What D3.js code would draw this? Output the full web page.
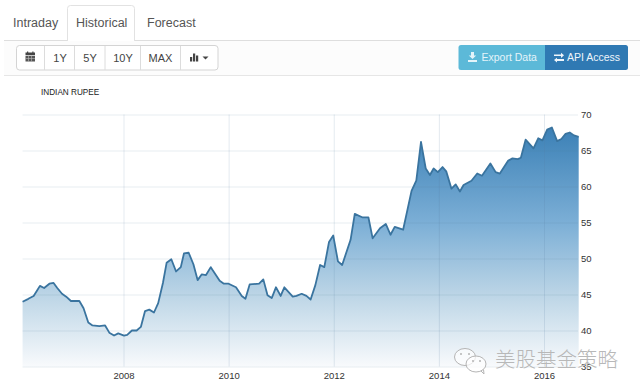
<!DOCTYPE html>
<html>
<head>
<meta charset="utf-8">
<script src="https://cdn.jsdelivr.net/npm/d3@7"></script>
<style>
  html, body { margin: 0; padding: 0; background: #fff; overflow: hidden; }
  text { font-family: "Liberation Sans", Arial, sans-serif; }
  .domain { display: none; }
</style>
</head>
<body>
<div id="chart"></div>
<script>
// decimal year, rupees per dollar
const years = [
  2006.08, 2006.19, 2006.29, 2006.35, 2006.41, 2006.49, 2006.59, 2006.67, 2006.74, 2006.83, 2006.91, 2007.0,
  2007.16, 2007.24, 2007.33, 2007.41, 2007.54, 2007.65, 2007.73, 2007.82, 2007.90, 2008.01, 2008.07, 2008.16,
  2008.25, 2008.33, 2008.41, 2008.49, 2008.58, 2008.66, 2008.75, 2008.82, 2008.91, 2009.0, 2009.09, 2009.15,
  2009.24, 2009.33, 2009.41, 2009.49, 2009.57, 2009.66, 2009.83, 2009.91, 2010.0, 2010.14, 2010.25, 2010.32,
  2010.40, 2010.58, 2010.66, 2010.74, 2010.82, 2010.90, 2010.99, 2011.06, 2011.22, 2011.29, 2011.39, 2011.48,
  2011.56, 2011.65, 2011.74, 2011.82, 2011.91, 2011.99, 2012.08, 2012.16, 2012.32, 2012.40, 2012.55, 2012.66,
  2012.74, 2012.88, 2012.99, 2013.08, 2013.16, 2013.32, 2013.48, 2013.57, 2013.66, 2013.75, 2013.83, 2013.90,
  2013.98, 2014.07, 2014.14, 2014.24, 2014.32, 2014.40, 2014.47, 2014.62, 2014.73, 2014.82, 2014.98, 2015.08,
  2015.16, 2015.32, 2015.40, 2015.50, 2015.56, 2015.65, 2015.80, 2015.89, 2015.97, 2016.06, 2016.15, 2016.25,
  2016.33, 2016.41, 2016.49, 2016.57, 2016.66
];
const rupee = [
  44.0, 44.4, 44.8, 45.5, 46.2, 45.9, 46.5, 46.6, 45.9, 45.1, 44.7, 44.1,
  44.1, 43.1, 41.1, 40.7, 40.6, 40.7, 39.7, 39.3, 39.6, 39.3, 39.4, 40.0,
  40.0, 40.5, 42.7, 42.9, 42.5, 43.8, 46.6, 49.4, 49.9, 48.2, 48.8, 50.7,
  50.8, 49.2, 47.0, 47.8, 47.7, 48.8, 46.9, 46.5, 46.5, 46.0, 44.8, 44.4,
  46.4, 46.5, 47.1, 44.9, 44.5, 46.0, 44.8, 46.0, 44.7, 44.8, 45.1, 44.8,
  44.3, 46.3, 49.1, 48.8, 52.3, 53.2, 49.6, 49.1, 52.6, 56.2, 55.7, 55.7,
  52.8, 54.2, 54.8, 53.3, 54.4, 54.0, 59.4, 60.8, 66.2, 62.5, 61.6, 62.5,
  62.0, 62.7, 62.1, 59.7, 60.3, 59.3, 60.2, 60.8, 61.8, 61.5, 63.2, 62.0,
  61.8, 63.6, 63.9, 63.8, 64.0, 66.5, 65.3, 66.7, 66.4, 67.9, 68.2, 66.3,
  66.6, 67.3, 67.5, 67.1, 66.9
];
const yearTicks = [2008, 2010, 2012, 2014, 2016];
const rupeeTicks = [35, 40, 45, 50, 55, 60, 65, 70];
const tabs = ["Intraday", "Historical", "Forecast"];
const rangeButtons = ["1Y", "5Y", "10Y", "MAX"];
const chartTitle = "INDIAN RUPEE";
const watermark = "美股基金策略";

const data = years.map((yr, i) => ({ yr, v: rupee[i] }));

const width = 640;
const height = 391;

const svg = d3.select("#chart")
  .append("svg")
  .attr("width", width)
  .attr("height", height)
  .style("display", "block");

// --- page chrome: tabs and toolbar
svg.append("rect").attr("x", 4).attr("y", 41).attr("width", 636).attr("height", 34).attr("fill", "#fcfcfc");
svg.append("line").attr("x1", 4).attr("x2", 640).attr("y1", 40.5).attr("y2", 40.5).attr("stroke", "#dedede");
svg.append("line").attr("x1", 4).attr("x2", 640).attr("y1", 75.5).attr("y2", 75.5).attr("stroke", "#e6e6e6");

svg.append("path")
  .attr("d", "M67.5,41V8.5a3,3 0 0 1 3,-3H131.5a3,3 0 0 1 3,3V41")
  .attr("fill", "#fff")
  .attr("stroke", "#e2e2e2");

const tabX = [13, 76, 147];
svg.selectAll(".tab")
  .data(tabs)
  .enter()
  .append("text")
  .attr("class", "tab")
  .attr("x", (d, i) => tabX[i])
  .attr("y", 27)
  .attr("fill", "#555")
  .style("font-size", "12.5px")
  .text(d => d);

// button group
svg.append("rect")
  .attr("x", 16.5).attr("y", 45.5).attr("width", 201.5).attr("height", 24.5).attr("rx", 3)
  .attr("fill", "#fff").attr("stroke", "#d4d4d4");
[44.5, 74.5, 105, 140.5, 180.5].forEach(x => {
  svg.append("line").attr("x1", x).attr("x2", x).attr("y1", 46).attr("y2", 70).attr("stroke", "#dcdcdc");
});
const rangeX = [60, 90, 123, 160.5];
svg.selectAll(".range")
  .data(rangeButtons)
  .enter()
  .append("text")
  .attr("class", "range")
  .attr("x", (d, i) => rangeX[i])
  .attr("y", 62)
  .attr("text-anchor", "middle")
  .attr("fill", "#444")
  .style("font-size", "11px")
  .text(d => d);

// calendar icon
svg.append("rect").attr("x", 25.5).attr("y", 52.5).attr("width", 9.5).attr("height", 2.5).attr("fill", "#444");
svg.append("rect").attr("x", 27).attr("y", 51.5).attr("width", 1.2).attr("height", 1.5).attr("fill", "#444");
svg.append("rect").attr("x", 32.3).attr("y", 51.5).attr("width", 1.2).attr("height", 1.5).attr("fill", "#444");
svg.append("rect").attr("x", 25.5).attr("y", 55.7).attr("width", 9.5).attr("height", 5.8).attr("fill", "#555");
svg.append("rect").attr("x", 25.5).attr("y", 58.2).attr("width", 9.5).attr("height", 0.6).attr("fill", "#bbb");
[28.4, 31.4].forEach(x => {
  svg.append("rect").attr("x", x).attr("y", 55.7).attr("width", 0.6).attr("height", 5.8).attr("fill", "#bbb");
});

// bar chart icon with caret
[[190, 4.5], [193, 8], [196, 6]].forEach(b => {
  svg.append("rect").attr("x", b[0]).attr("y", 61.5 - b[1]).attr("width", 2.2).attr("height", b[1]).attr("fill", "#444");
});
svg.append("path").attr("d", "M202.5,56.5h6l-3,3z").attr("fill", "#444");

// export / api buttons
svg.append("path").attr("d", "M545,45H461a2.5,2.5 0 0 0 -2.5,2.5V67.5a2.5,2.5 0 0 0 2.5,2.5H545z").attr("fill", "#5cb9d8");
svg.append("path").attr("d", "M545,45H625.5a2.5,2.5 0 0 1 2.5,2.5V67.5a2.5,2.5 0 0 1 -2.5,2.5H545z").attr("fill", "#2f79b3");
svg.append("text").attr("x", 481.5).attr("y", 61).attr("fill", "#e4f4fa").style("font-size", "10.5px").text("Export Data");
svg.append("text").attr("x", 567).attr("y", 61).attr("fill", "#eef5fb").style("font-size", "10.5px").text("API Access");
// download icon
svg.append("path").attr("d", "M471,52h3v3.5h2.2l-3.7,3.6l-3.7,-3.6H471z M468,60h9v2h-9z").attr("fill", "#e4f4fa");
// exchange icon
svg.append("path").attr("d", "M554,54.5h7v-1.8l3,2.6l-3,2.6v-1.8h-7z M564,59h-7v-1.3l-3,2.4l3,2.4v-1.5h7z").attr("fill", "#eef5fb");

svg.append("text")
  .attr("x", 41).attr("y", 95)
  .attr("fill", "#222")
  .style("font-size", "8.2px")
  .text(chartTitle);

// --- chart
const x = d3.scaleLinear().domain([2008, 2016]).range([123.5, 544]);
const y = d3.scaleLinear().domain([35, 70]).range([366.5, 114.5]);

const x0 = x(years[0]);
const x1 = x(years[years.length - 1]);

const defs = svg.append("defs");
const grad = defs.append("linearGradient")
  .attr("id", "areaFill")
  .attr("gradientUnits", "userSpaceOnUse")
  .attr("x1", 0).attr("x2", 0)
  .attr("y1", y(68.2)).attr("y2", y(35));
grad.append("stop").attr("offset", "0%").attr("stop-color", "#3b80b6");
grad.append("stop").attr("offset", "40%").attr("stop-color", "#7cafd6");
grad.append("stop").attr("offset", "70%").attr("stop-color", "#bcd5e6");
grad.append("stop").attr("offset", "100%").attr("stop-color", "#f8fafc");

// area and line
const area = d3.area()
  .x(d => x(d.yr))
  .y0(y(35))
  .y1(d => y(d.v));
const line = d3.line()
  .x(d => x(d.yr))
  .y(d => y(d.v));

svg.append("path")
  .datum(data)
  .attr("d", area)
  .attr("fill", "url(#areaFill)");

// grid sits over the fill, faint enough to show on white and on blue
svg.append("g")
  .attr("transform", `translate(${x0},0)`)
  .call(d3.axisRight(y).tickValues(rupeeTicks).tickSize(578 - x0).tickFormat(""))
  .selectAll("line").attr("stroke", "#5a7f9f").attr("stroke-opacity", 0.14);
svg.append("g")
  .attr("transform", "translate(0,114.5)")
  .call(d3.axisBottom(x).tickValues(yearTicks).tickSize(252).tickFormat(""))
  .selectAll("line").attr("stroke", "#5a7f9f").attr("stroke-opacity", 0.16);

svg.append("path")
  .datum(data)
  .attr("d", line)
  .attr("fill", "none")
  .attr("stroke", "#3a749f")
  .attr("stroke-width", 1.8)
  .attr("stroke-linejoin", "round");

// axes
const xAxis = svg.append("g")
  .attr("transform", "translate(0,372)")
  .call(d3.axisBottom(x).tickValues(yearTicks).tickSize(0).tickPadding(0).tickFormat(d3.format("d")));
xAxis.selectAll("text").attr("fill", "#333").style("font-size", "9.5px");

const yAxis = svg.append("g")
  .attr("transform", "translate(581,0)")
  .call(d3.axisRight(y).tickValues(rupeeTicks).tickSize(0).tickPadding(0));
yAxis.selectAll("text").attr("fill", "#333").style("font-size", "9.5px");

// --- watermark
const wm = svg.append("g").attr("fill", "none").attr("stroke", "#b5b5b5").attr("stroke-width", 1);
wm.append("ellipse").attr("cx", 465).attr("cy", 357).attr("rx", 10.5).attr("ry", 8.5).attr("fill", "#fff").attr("fill-opacity", 0.6);
wm.append("ellipse").attr("cx", 476).attr("cy", 364).attr("rx", 10).attr("ry", 8).attr("fill", "#fff").attr("fill-opacity", 0.7);
wm.append("path").attr("d", "M481,371l3,3l-0.5,-4.5");
[[461, 354], [469, 354], [473, 361], [480, 361]].forEach(p => {
  wm.append("circle").attr("cx", p[0]).attr("cy", p[1]).attr("r", 1).attr("fill", "#b5b5b5").attr("stroke", "none");
});
svg.append("text")
  .attr("x", 495).attr("y", 367)
  .attr("fill", "#b8b8b8")
  .style("font-family", '"Noto Sans CJK SC", sans-serif')
  .style("font-weight", 300)
  .style("font-size", "20.5px")
  .text(watermark);
</script>
</body>
</html>
